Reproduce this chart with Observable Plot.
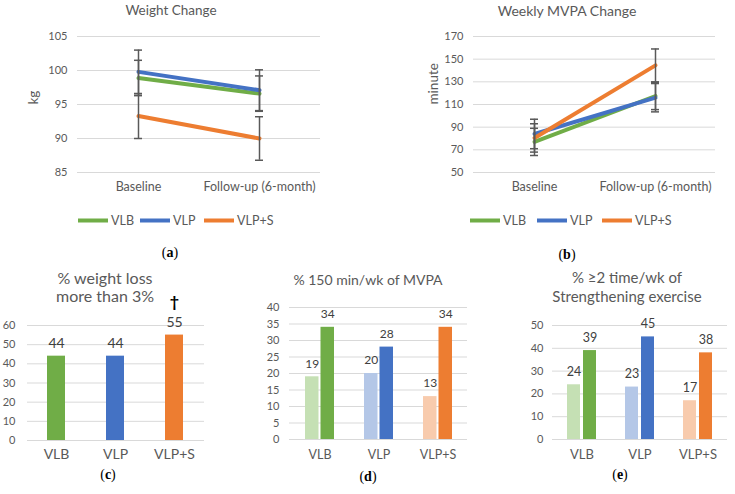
<!DOCTYPE html>
<html><head><meta charset="utf-8">
<script src="https://cdn.jsdelivr.net/npm/d3@7"></script>
<script src="https://cdn.jsdelivr.net/npm/@observablehq/plot@0.6"></script>
<style>
body{margin:0;background:#fff;}
#root{position:relative;width:735px;height:494px;font-family:Lato,sans-serif;color:#595959;overflow:hidden;}
.panel{position:absolute;}
.title{position:absolute;color:#595959;text-align:center;white-space:nowrap;transform:translate(-50%,-50%);}
.cap{position:absolute;font-family:"Liberation Serif",serif;font-size:14px;color:#000;transform:translate(-50%,-50%);white-space:nowrap;}
.leg{position:absolute;display:flex;align-items:center;font-size:12.5px;color:#595959;transform:translateY(-50%);white-space:nowrap;}
.sw{width:30px;height:4px;margin-right:3px;}
</style></head><body><div id="root"></div>
<script>
// ---------- data ----------
const groups = ["VLB", "VLP", "VLP+S"];
const colors = ["#70AD47", "#4472C4", "#ED7D31"];
const lightColors = ["#C5E0B4", "#B4C7E7", "#F8CBAD"];
const timepoints = ["Baseline", "Follow-up (6-month)"];

// (a) Weight change, kg (mean ± error)
const weightBaseline = [98.9, 99.8, 93.3];
const weightFollowup = [96.6, 97.1, 90.0];
const weightErrBaseline = [2.6, 3.2, 3.3];
const weightErrFollowup = [2.6, 3.0, 3.2];
const weightTicks = [85, 90, 95, 100, 105];

// (b) Weekly MVPA change, minute (mean ± error)
const mvpaBaseline = [77, 84, 80.5];
const mvpaFollowup = [117.5, 116, 144.5];
const mvpaErrBaseline = [12, 13, 12.5];
const mvpaErrFollowup = [12, 12.5, 14.5];
const mvpaTicks = [50, 70, 90, 110, 130, 150, 170];

// (c) % weight loss more than 3%
const pctLoss3 = [44, 44, 55];
const pctLoss3Marks = ["", "", "†"];
const pctLossTicks = [0, 10, 20, 30, 40, 50, 60];

// (d) % 150 min/wk of MVPA (baseline, follow-up)
const mvpa150Baseline = [19, 20, 13];
const mvpa150Followup = [34, 28, 34];
const mvpa150Ticks = [0, 5, 10, 15, 20, 25, 30, 35, 40];

// (e) % >=2 time/wk of strengthening exercise (baseline, follow-up)
const strengthBaseline = [24, 23, 17];
const strengthFollowup = [39, 45, 38];
const strengthTicks = [0, 10, 20, 30, 40, 50];

// ---------- helpers ----------
const root = document.getElementById("root");
function place(node, left, top) {
  const d = document.createElement("div");
  d.className = "panel";
  d.style.left = left + "px";
  d.style.top = top + "px";
  d.appendChild(node);
  root.appendChild(d);
}
function addText(cls, html, x, y, size, lh) {
  const d = document.createElement("div");
  d.className = cls;
  d.style.left = x + "px";
  d.style.top = y + "px";
  if (size) d.style.fontSize = size + "px";
  if (lh) d.style.lineHeight = lh + "px";
  d.innerHTML = html;
  root.appendChild(d);
}
function addLegend(xs, y) {
  groups.forEach((g, i) => {
    const d = document.createElement("div");
    d.className = "leg";
    d.style.left = xs[i] + "px";
    d.style.top = y + "px";
    d.innerHTML = `<span class="sw" style="background:${colors[i]}"></span><span>${g}</span>`;
    root.appendChild(d);
  });
}
const baseStyle = {fontFamily: "Lato, sans-serif", fontSize: "11px", color: "#595959", background: "transparent", overflow: "visible"};

function lineChart(o) {
  const rows = [];
  groups.forEach((g, i) => {
    rows.push({group: g, time: timepoints[0], value: o.base[i], err: o.eb[i]});
    rows.push({group: g, time: timepoints[1], value: o.fol[i], err: o.ef[i]});
  });
  const t = o.ticks;
  const inner = o.width - o.marginLeft - o.marginRight;
  const step = inner / 2;
  const pi = 1 - 8 / step; // band = error-bar cap width
  return Plot.plot({
    width: o.width, height: 185,
    marginLeft: o.marginLeft, marginRight: o.marginRight, marginTop: 16, marginBottom: 33,
    style: baseStyle,
    x: {type: "band", domain: timepoints, paddingInner: pi, paddingOuter: pi / 2, axis: null},
    y: {domain: [t[0], t[t.length - 1]], ticks: t, label: null, tickSize: 0, tickPadding: 10},
    color: {domain: groups, range: colors},
    marks: [
      Plot.ruleY(t, {stroke: "#d9d9d9", strokeWidth: 1}),
      Plot.text(timepoints, {x: d => d, text: d => d, frameAnchor: "bottom", dy: 18, fontSize: 12.5, fill: "#595959"}),
      Plot.line(rows, {x: "time", y: "value", z: "group", stroke: "group", strokeWidth: 4, strokeLinecap: "round"}),
      Plot.ruleX(rows, {x: "time", y1: d => d.value - d.err, y2: d => d.value + d.err, stroke: "#595959", strokeWidth: 1.5}),
      Plot.tickY(rows, {x: "time", y: d => d.value - d.err, stroke: "#595959", strokeWidth: 1.5}),
      Plot.tickY(rows, {x: "time", y: d => d.value + d.err, stroke: "#595959", strokeWidth: 1.5}),
      Plot.text([o.label], {text: d => d, frameAnchor: "left", dx: -o.labelOffset, rotate: -90, fontSize: 13.5, fill: "#595959"})
    ]
  });
}

function singleBarChart(o) {
  const rows = groups.map((g, i) => ({group: g, value: o.values[i], mark: o.marks[i]}));
  const t = o.ticks;
  return Plot.plot({
    width: o.width, height: 175,
    marginLeft: o.marginLeft, marginRight: o.marginRight, marginTop: o.marginTop, marginBottom: o.marginBottom,
    style: baseStyle,
    x: {domain: groups, paddingInner: o.pi, paddingOuter: o.pi / 2, axis: null},
    y: {domain: [t[0], t[t.length - 1]], ticks: t, label: null, tickSize: 0, tickPadding: o.tickPadY},
    color: {domain: groups, range: colors},
    marks: [
      Plot.ruleY(t, {stroke: "#d9d9d9", strokeWidth: 1}),
      Plot.barY(rows, {x: "group", y: "value", fill: "group"}),
      Plot.text(groups, {x: d => d, text: d => d, frameAnchor: "bottom", dy: 18, fontSize: o.xFont, fill: "#595959"}),
      Plot.text(rows, {x: "group", y: "value", text: d => String(d.value), dy: -13, fontSize: o.valFont, fill: "#404040"}),
      Plot.text(rows, {x: "group", y: "value", text: "mark", dy: -33, fontSize: 16, fontWeight: "bold", fill: "#000"})
    ]
  });
}

function pairedBarChart(o) {
  const rows = groups.map((g, i) => ({group: g, pre: o.pre[i], post: o.post[i], light: lightColors[i], dark: colors[i]}));
  const t = o.ticks;
  const inset = o.inset;
  const off = o.labelOff;
  return Plot.plot({
    width: o.width, height: 175,
    marginLeft: o.marginLeft, marginRight: o.marginRight, marginTop: o.marginTop, marginBottom: o.marginBottom,
    style: baseStyle,
    x: {domain: groups, paddingInner: o.pi, paddingOuter: o.pi / 2, axis: null},
    y: {domain: [t[0], t[t.length - 1]], ticks: t, label: null, tickSize: 0, tickPadding: o.tickPadY},
    marks: [
      Plot.ruleY(t, {stroke: "#d9d9d9", strokeWidth: 1}),
      Plot.barY(rows, {x: "group", y: "pre", fill: d => d.light, insetRight: inset}),
      Plot.barY(rows, {x: "group", y: "post", fill: d => d.dark, insetLeft: inset}),
      Plot.text(groups, {x: d => d, text: d => d, frameAnchor: "bottom", dy: 19, fontSize: o.xFont, fill: "#595959"}),
      Plot.text(rows, {x: "group", y: "pre", text: d => String(d.pre), dx: -off, dy: -13, fontSize: o.valFont, fill: "#404040"}),
      Plot.text(rows, {x: "group", y: "post", text: d => String(d.post), dx: off, dy: -13, fontSize: o.valFont, fill: "#404040"})
    ]
  });
}

// ---------- panels ----------
place(lineChart({base: weightBaseline, fol: weightFollowup, eb: weightErrBaseline, ef: weightErrFollowup,
  ticks: weightTicks, label: "kg", labelOffset: 44, width: 340, marginLeft: 77, marginRight: 20}), 0, 20);
place(lineChart({base: mvpaBaseline, fol: mvpaFollowup, eb: mvpaErrBaseline, ef: mvpaErrFollowup,
  ticks: mvpaTicks, label: "minute", labelOffset: 40, width: 370, marginLeft: 108, marginRight: 20}), 365, 20);

place(singleBarChart({values: pctLoss3, marks: pctLoss3Marks, ticks: pctLossTicks, width: 215,
  marginLeft: 27, marginRight: 11, marginTop: 35, marginBottom: 25, pi: 0.69, tickPadY: 12, xFont: 14, valFont: 14}), 0, 290);
place(pairedBarChart({pre: mvpa150Baseline, post: mvpa150Followup, ticks: mvpa150Ticks, width: 245,
  marginLeft: 49, marginRight: 18, marginTop: 17, marginBottom: 26, pi: 0.51, inset: 15.5, labelOff: 7.75, tickPadY: 10, xFont: 12.5, valFont: 12}), 240, 290);
place(pairedBarChart({pre: strengthBaseline, post: strengthFollowup, ticks: strengthTicks, width: 250,
  marginLeft: 67, marginRight: 8, marginTop: 35, marginBottom: 26, pi: 0.494, inset: 16, labelOff: 8, tickPadY: 9, xFont: 13, valFont: 12.5}), 485, 290);

// titles
addText("title", "Weight Change", 171, 10, 13.5);
addText("title", "Weekly MVPA Change", 567, 10, 14);
addText("title", "% weight loss<br>more than 3%", 105, 287, 16, 18);
addText("title", "% 150 min/wk of MVPA", 368, 279, 14);
addText("title", "% ≥2 time/wk of<br>Strengthening exercise", 627, 287, 15, 19);

// legends
addLegend([78, 140, 204], 220);
addLegend([470, 537, 602], 220);

// captions
addText("cap", "(<b>a</b>)", 170, 253);
addText("cap", "(<b>b</b>)", 567, 255);
addText("cap", "(<b>c</b>)", 108, 475);
addText("cap", "(<b>d</b>)", 368, 477);
addText("cap", "(<b>e</b>)", 620, 475);
</script>
</body></html>
